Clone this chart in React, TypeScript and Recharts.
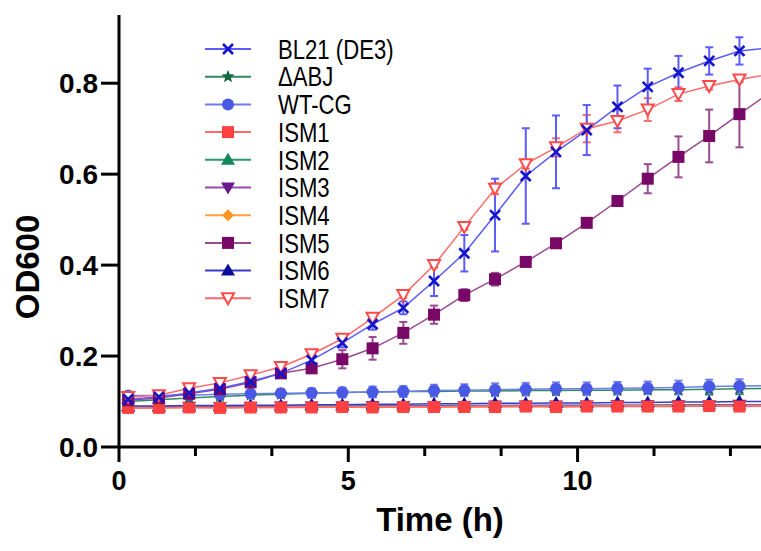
import React from 'react';
import { LineChart, Line, XAxis, YAxis, ErrorBar, Legend } from 'recharts';

const FONT = '"Liberation Sans", Arial, sans-serif';

// sampling times (h)
const times = [0.2, 0.87, 1.53, 2.2, 2.87, 3.53, 4.2, 4.87, 5.53, 6.2, 6.87, 7.53, 8.2, 8.87, 9.53, 10.2, 10.87, 11.53, 12.2, 12.87, 13.53, 14.2];

const bl21 = [0.105, 0.11, 0.119, 0.129, 0.144, 0.162, 0.191, 0.229, 0.27, 0.306, 0.365, 0.426, 0.51, 0.596, 0.649, 0.697, 0.748, 0.792, 0.823, 0.849, 0.871, 0.878];
const bl21Err = [0.003, 0.004, 0.005, 0.005, 0.005, 0.006, 0.008, 0.01, 0.012, 0.014, 0.033, 0.04, 0.08, 0.105, 0.08, 0.055, 0.047, 0.04, 0.037, 0.03, 0.03, 0.03];

const dABJ = [0.1, 0.104, 0.108, 0.111, 0.114, 0.116, 0.118, 0.12, 0.121, 0.122, 0.122, 0.123, 0.123, 0.124, 0.124, 0.125, 0.125, 0.126, 0.126, 0.127, 0.128, 0.129];
const dABJErr = [0.004, 0.004, 0.004, 0.005, 0.005, 0.005, 0.005, 0.006, 0.006, 0.006, 0.006, 0.007, 0.007, 0.007, 0.008, 0.008, 0.008, 0.009, 0.01, 0.012, 0.012, 0.012];

const wtcg = [0.113, 0.113, 0.114, 0.116, 0.117, 0.118, 0.119, 0.12, 0.121, 0.122, 0.124, 0.125, 0.126, 0.127, 0.128, 0.128, 0.129, 0.13, 0.131, 0.133, 0.134, 0.135];
const wtcgErr = [0.006, 0.006, 0.007, 0.008, 0.008, 0.009, 0.01, 0.011, 0.012, 0.012, 0.013, 0.013, 0.014, 0.014, 0.014, 0.014, 0.014, 0.014, 0.015, 0.015, 0.015, 0.015];

const ism1 = [0.086, 0.086, 0.087, 0.086, 0.087, 0.087, 0.087, 0.088, 0.087, 0.088, 0.088, 0.088, 0.088, 0.089, 0.088, 0.089, 0.089, 0.089, 0.089, 0.09, 0.089, 0.09];
const ism2 = [0.088, 0.088, 0.088, 0.089, 0.089, 0.089, 0.09, 0.09, 0.09, 0.09, 0.091, 0.091, 0.091, 0.091, 0.092, 0.092, 0.092, 0.092, 0.093, 0.093, 0.093, 0.093];
const ism3 = [0.087, 0.087, 0.088, 0.088, 0.088, 0.089, 0.089, 0.089, 0.09, 0.09, 0.09, 0.09, 0.091, 0.091, 0.091, 0.091, 0.092, 0.092, 0.092, 0.092, 0.093, 0.093];
const ism4 = [0.086, 0.086, 0.087, 0.087, 0.087, 0.087, 0.088, 0.088, 0.088, 0.088, 0.088, 0.089, 0.089, 0.089, 0.089, 0.089, 0.09, 0.09, 0.09, 0.09, 0.09, 0.09];
const ism6 = [0.09, 0.09, 0.091, 0.091, 0.092, 0.092, 0.093, 0.093, 0.094, 0.094, 0.095, 0.095, 0.096, 0.096, 0.097, 0.097, 0.098, 0.098, 0.099, 0.099, 0.1, 0.1];

const ism5 = [0.103, 0.108, 0.117, 0.127, 0.142, 0.162, 0.173, 0.193, 0.217, 0.251, 0.291, 0.334, 0.369, 0.407, 0.448, 0.493, 0.541, 0.59, 0.638, 0.684, 0.732, 0.78];
const ism5Err = [0.003, 0.003, 0.004, 0.004, 0.005, 0.006, 0.008, 0.02, 0.025, 0.024, 0.02, 0.013, 0.014, 0.008, 0.006, 0.006, 0.008, 0.032, 0.045, 0.058, 0.073, 0.07];

const ism7 = [0.11, 0.114, 0.129, 0.141, 0.158, 0.176, 0.204, 0.238, 0.284, 0.334, 0.4, 0.484, 0.568, 0.622, 0.659, 0.7, 0.717, 0.742, 0.776, 0.794, 0.808, 0.82];
const ism7Err = [0.003, 0.003, 0.004, 0.004, 0.004, 0.005, 0.005, 0.005, 0.005, 0.006, 0.006, 0.006, 0.012, 0.01, 0.02, 0.03, 0.025, 0.025, 0.015, 0.008, 0.006, 0.006];

const xTicks = [0, 1.667, 3.333, 5, 6.667, 8.333, 10, 11.667, 13.333];
const yTicks = [0, 0.2, 0.4, 0.6, 0.8];

// legend order
const series = [
  { key: 'bl21', name: 'BL21 (DE3)', values: bl21, errors: bl21Err, line: '#5b5bff', mark: '#1414cc', shape: 'x' },
  { key: 'dabj', name: '\u0394ABJ', values: dABJ, errors: dABJErr, line: '#2e8a5e', mark: '#14683f', shape: 'star' },
  { key: 'wtcg', name: 'WT-CG', values: wtcg, errors: wtcgErr, line: '#6f7cf2', mark: '#4a58e6', shape: 'circle' },
  { key: 'ism1', name: 'ISM1', values: ism1, errors: null, line: '#ff6a6a', mark: '#ff4040', shape: 'square' },
  { key: 'ism2', name: 'ISM2', values: ism2, errors: null, line: '#2a9a6a', mark: '#12875a', shape: 'triangle' },
  { key: 'ism3', name: 'ISM3', values: ism3, errors: null, line: '#9a4aaa', mark: '#6a1a8a', shape: 'triangleDown' },
  { key: 'ism4', name: 'ISM4', values: ism4, errors: null, line: '#ffa040', mark: '#ff9420', shape: 'diamond' },
  { key: 'ism5', name: 'ISM5', values: ism5, errors: ism5Err, line: '#9a4a8e', mark: '#780868', shape: 'square' },
  { key: 'ism6', name: 'ISM6', values: ism6, errors: null, line: '#3a3ac8', mark: '#0a0a9c', shape: 'triangle' },
  { key: 'ism7', name: 'ISM7', values: ism7, errors: ism7Err, line: '#ff6a6a', mark: '#ff4a4a', shape: 'triangleDownOpen' },
];

const drawOrder = ['ism2', 'ism3', 'ism4', 'ism6', 'ism1', 'dabj', 'wtcg', 'ism5', 'ism7', 'bl21'];

const data = times.map((t, i) => {
  const row: any = { t };
  series.forEach((s) => {
    row[s.key] = s.values[i];
    if (s.errors) row[s.key + 'Err'] = s.errors[i];
  });
  return row;
});

const starPath = (cx: number, cy: number, r: number) => {
  let d = '';
  for (let k = 0; k < 10; k++) {
    const rr = k % 2 === 0 ? r : r * 0.42;
    const a = -Math.PI / 2 + (k * Math.PI) / 5;
    d += (k === 0 ? 'M' : 'L') + (cx + rr * Math.cos(a)).toFixed(2) + ',' + (cy + rr * Math.sin(a)).toFixed(2);
  }
  return d + 'Z';
};

const Marker = ({ cx, cy, shape, color }: any) => {
  if (cx == null || cy == null) return null;
  switch (shape) {
    case 'x':
      return <path d={`M${cx - 5},${cy - 5}L${cx + 5},${cy + 5}M${cx - 5},${cy + 5}L${cx + 5},${cy - 5}`} stroke={color} strokeWidth={2.6} fill="none" />;
    case 'star':
      return <path d={starPath(cx, cy, 7)} fill={color} />;
    case 'circle':
      return <circle cx={cx} cy={cy} r={6} fill={color} />;
    case 'square':
      return <rect x={cx - 6} y={cy - 6} width={12} height={12} fill={color} />;
    case 'triangle':
      return <path d={`M${cx},${cy - 7}L${cx + 7},${cy + 5}L${cx - 7},${cy + 5}Z`} fill={color} />;
    case 'triangleDown':
      return <path d={`M${cx},${cy + 7}L${cx + 7},${cy - 5}L${cx - 7},${cy - 5}Z`} fill={color} />;
    case 'triangleDownOpen':
      return <path d={`M${cx},${cy + 6}L${cx + 6},${cy - 5}L${cx - 6},${cy - 5}Z`} fill="#fff" stroke={color} strokeWidth={2} />;
    case 'diamond':
      return <path d={`M${cx},${cy - 6}L${cx + 6},${cy}L${cx},${cy + 6}L${cx - 6},${cy}Z`} fill={color} />;
    default:
      return null;
  }
};

const LegendBox = () => (
  <svg width={240} height={290} style={{ display: 'block' }}>
    {series.map((s, i) => {
      const y = 19 + i * 27.7;
      return (
        <g key={s.key}>
          <line x1={15} x2={61} y1={y} y2={y} stroke={s.line} strokeWidth={2} />
          <Marker cx={38} cy={y} shape={s.shape} color={s.mark} />
          <g transform={`translate(88,${y}) scale(0.82,1)`}>
            <text x={0} y={0} dy="0.36em" fontSize={27} fontFamily={FONT} fill="#000">{s.name}</text>
          </g>
        </g>
      );
    })}
  </svg>
);

const XTick = ({ x, y, payload }: any) => {
  const v = payload.value;
  const major = Math.abs(v % 5) < 0.01;
  return (
    <g>
      <line x1={x} x2={x} y1={y} y2={y + (major ? 15 : 9)} stroke="#000" strokeWidth={3} />
      {major && (
        <text x={x} y={y + 43} textAnchor="middle" fontSize={27} fontWeight="bold" fontFamily={FONT} fill="#000">{Math.round(v)}</text>
      )}
    </g>
  );
};

const XTitle = () => (
  <text x={440} y={531} textAnchor="middle" fontSize={33} fontWeight="bold" fontFamily={FONT} fill="#000">Time (h)</text>
);

const YTitle = () => (
  <text x={27} y={267} transform="rotate(-90 27 267)" textAnchor="middle" dominantBaseline="central" fontSize={33} fontWeight="bold" fontFamily={FONT} fill="#000">OD600</text>
);

const App = () => {
  const ordered = drawOrder.map((k) => series.find((s) => s.key === k)!);
  return (
    <div style={{ position: 'absolute', left: 0, top: 0, background: '#fff' }}>
      <LineChart width={761} height={551} data={data} margin={{ top: 15, right: 0, left: 0, bottom: 0 }}>
        <XAxis
          dataKey="t"
          type="number"
          domain={[0, 14]}
          allowDataOverflow
          ticks={xTicks}
          interval={0}
          height={104}
          tickSize={0}
          tickMargin={0}
          tickLine={false}
          axisLine={{ stroke: '#000', strokeWidth: 3 }}
          tick={<XTick />}
          label={<XTitle />}
        />
        <YAxis
          type="number"
          domain={[0, 0.95]}
          allowDataOverflow
          ticks={yTicks}
          interval={0}
          width={119}
          tickSize={18}
          tickMargin={3}
          tickFormatter={(v: number) => v.toFixed(1)}
          tickLine={{ stroke: '#000', strokeWidth: 3 }}
          axisLine={{ stroke: '#000', strokeWidth: 3 }}
          tick={{ fill: '#000', fontSize: 28, fontWeight: 'bold', fontFamily: FONT }}
          label={<YTitle />}
        />
        <Legend
          layout="vertical"
          align="center"
          verticalAlign="middle"
          content={() => <LegendBox />}
          wrapperStyle={{ left: 190, top: 30, width: 240, height: 290 }}
        />
        {ordered.map((s) => (
          <Line
            key={s.key}
            dataKey={s.key}
            name={s.name}
            stroke={s.line}
            strokeWidth={1.5}
            isAnimationActive={false}
            dot={(p: any) => <Marker key={`${s.key}-${p.index}`} cx={p.cx} cy={p.cy} shape={s.shape} color={s.mark} />}
            activeDot={false}
          >
            {s.errors && (
              <ErrorBar dataKey={s.key + 'Err'} width={4} strokeWidth={2} stroke={s.line} direction="y" isAnimationActive={false} />
            )}
          </Line>
        ))}
      </LineChart>
    </div>
  );
};

export default App;
